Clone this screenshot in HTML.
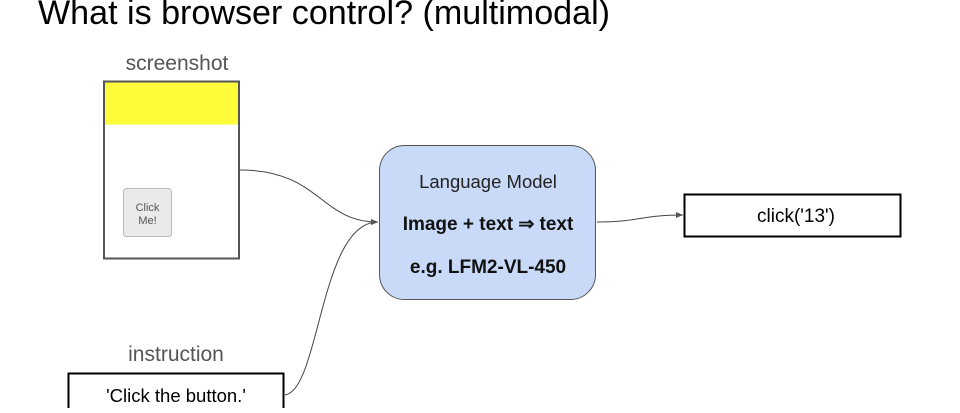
<!DOCTYPE html>
<html><head><style>
body{margin:0;width:960px;height:408px;overflow:hidden;background:#fff;font-family:"Liberation Sans",Arial,sans-serif}
</style></head><body>
<svg width="960" height="408" viewBox="0 0 960 408" xmlns="http://www.w3.org/2000/svg" font-family="Liberation Sans, Arial, sans-serif">
<defs><marker id="a" markerWidth="8" markerHeight="8" refX="7" refY="4" orient="auto" markerUnits="userSpaceOnUse"><path d="M0,1 L7,4 L0,7 Z" fill="#555"/></marker></defs>
<text x="38" y="24" font-size="34" fill="#000" textLength="572" lengthAdjust="spacingAndGlyphs">What is browser control? (multimodal)</text>
<text x="177" y="70" font-size="21" fill="#555" text-anchor="middle">screenshot</text>
<rect x="104" y="81.5" width="135" height="177" fill="#fff" stroke="#555" stroke-width="2"/>
<rect x="105" y="82.5" width="133" height="42" fill="#fdfb3a"/>
<rect x="123.5" y="188.5" width="48" height="48" rx="3" fill="#eaeaea" stroke="#bbb"/>
<text x="147.5" y="211" font-size="11" fill="#555" text-anchor="middle">Click</text>
<text x="147.5" y="224" font-size="11" fill="#555" text-anchor="middle">Me!</text>
<rect x="379.5" y="145.5" width="216" height="154" rx="25" fill="#c9daf8" stroke="#555"/>
<text x="488" y="188" font-size="18.5" fill="#222" text-anchor="middle">Language Model</text>
<text x="488" y="230" font-size="19" font-weight="bold" fill="#111" text-anchor="middle">Image + text ⇒ text</text>
<text x="488" y="273" font-size="19" font-weight="bold" fill="#111" text-anchor="middle">e.g. LFM2-VL-450</text>
<rect x="684.5" y="194.5" width="216" height="42" fill="#fff" stroke="#000" stroke-width="2"/>
<text x="796" y="222" font-size="19" fill="#000" text-anchor="middle">click('13')</text>
<text x="176" y="361" font-size="21" fill="#555" text-anchor="middle">instruction</text>
<rect x="68.5" y="373.5" width="215" height="50" fill="#fff" stroke="#000" stroke-width="2"/>
<text x="176" y="402" font-size="18.5" fill="#000" text-anchor="middle">'Click the button.'</text>
<path d="M240,170 C320,170 320,222 378,222" fill="none" stroke="#444" stroke-width="1" marker-end="url(#a)"/>
<path d="M285,395 C320,390 320,222 378,222" fill="none" stroke="#444" stroke-width="1" marker-end="url(#a)"/>
<path d="M597,222 C640,222 640,215 683,215" fill="none" stroke="#444" stroke-width="1" marker-end="url(#a)"/>
</svg>
</body></html>
